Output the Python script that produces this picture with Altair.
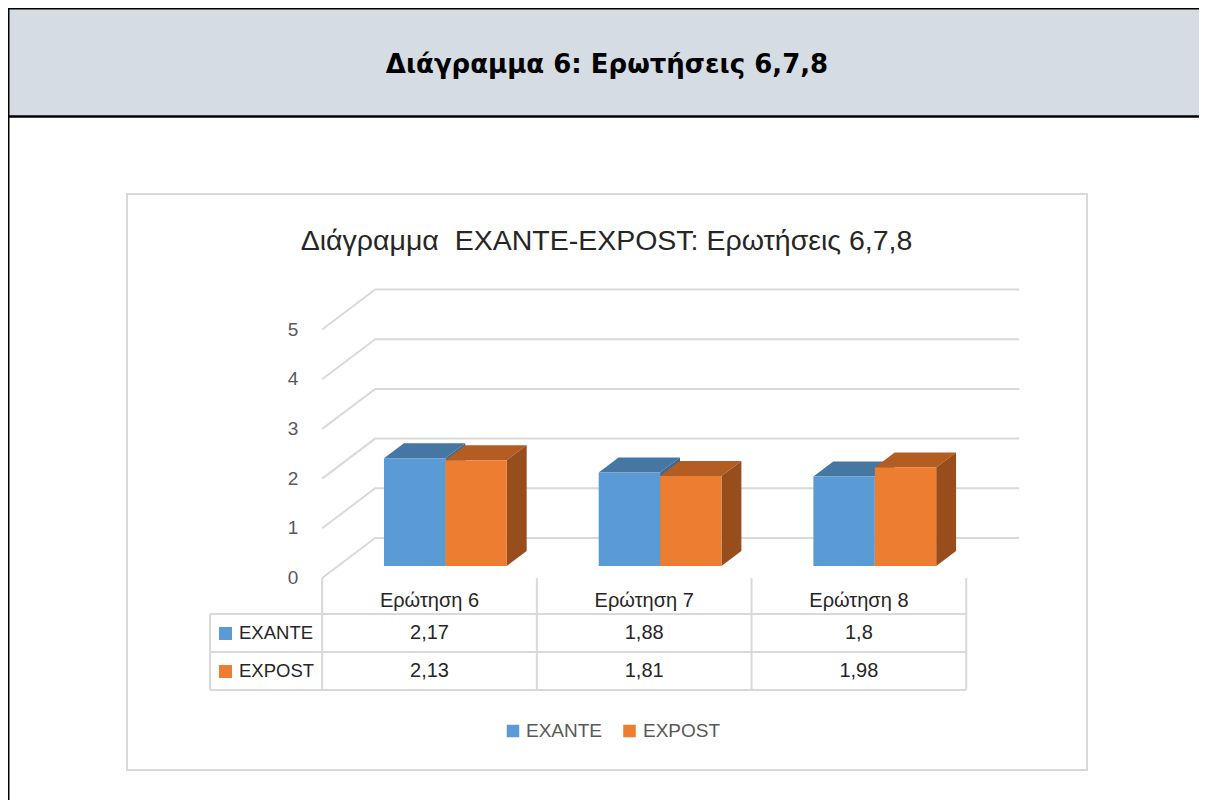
import altair as alt
import pandas as pd

# ---------------- data ----------------
categories = ["Ερώτηση 6", "Ερώτηση 7", "Ερώτηση 8"]
series = ["EXANTE", "EXPOST"]
exante = [2.17, 1.88, 1.8]
expost = [2.13, 1.81, 1.98]
y_ticks = [0, 1, 2, 3, 4, 5]

chart_title = "Διάγραμμα \u00a0EXANTE-EXPOST: Ερωτήσεις 6,7,8"
header_title = "Διάγραμμα 6: Ερωτήσεις 6,7,8"

# ---------------- style ----------------
front_colors = {"EXANTE": "#5b9bd5", "EXPOST": "#ed7d31"}
top_colors = {"EXANTE": "#4676a2", "EXPOST": "#b45d22"}
side_colors = {"EXANTE": "#3d6a94", "EXPOST": "#984e1c"}
GRID = "#d9d9d9"
TXT = "#262626"
LBL = "#595959"
FONT = "Liberation Sans"

W, H = 1191, 792
X_DOMAIN = [-1.9632, 3.5841]   # category index units
Y_DOMAIN = [-4.467, 11.469]    # value units
KX, KY = 0.2469, 0.8048        # depth projection (per unit depth)
ZF, ZB = 0.30, 0.675           # bar front / back depth
BW = 0.286                     # bar width (category units)

values = {"EXANTE": exante, "EXPOST": expost}


def X(f):
    return alt.X(f, type="quantitative", axis=None,
                 scale=alt.Scale(domain=X_DOMAIN, nice=False, zero=False))


def Y(f):
    return alt.Y(f, type="quantitative", axis=None, stack=None,
                 scale=alt.Scale(domain=Y_DOMAIN, nice=False, zero=False))


# ---------- back wall gridlines ----------
grid_rows = []
for k in y_ticks:
    pts = [(-0.5, k), (-0.5 + KX, k + KY), (2.5 + KX, k + KY)]
    for j, (u, v) in enumerate(pts):
        grid_rows.append({"k": k, "o": j, "u": u, "v": v})
grid = alt.Chart(pd.DataFrame(grid_rows)).mark_line(
    color=GRID, strokeWidth=2
).encode(x=X("u"), y=Y("v"), detail="k:N", order="o:Q")

# ---------- bars (3D faces) ----------
bar_layers = []
for s in series:
    top_rows, side_rows, front_rows = [], [], []
    for i, v in enumerate(values[s]):
        a = i - BW if s == "EXANTE" else i
        b = a + BW
        vf, vb = v + KY * ZF, v + KY * ZB
        top = [(a + KX * ZF, vf, vf), (a + KX * ZB, vb, vf),
               (b + KX * ZF, vb, vf), (b + KX * ZB, vb, vb)]
        for u, t, bt in top:
            top_rows.append({"face": f"{s}{i}", "xu": u, "ytop": t, "ybot": bt})
        side = [(b + KX * ZF, vf, KY * ZF), (b + KX * ZB, vb, KY * ZB)]
        for u, t, bt in side:
            side_rows.append({"face": f"{s}{i}", "xu": u, "ytop": t, "ybot": bt})
        front_rows.append({"x0": a + KX * ZF, "x1": b + KX * ZF,
                           "y0": KY * ZF, "y1": vf})
    for rows, col in [(top_rows, top_colors[s]), (side_rows, side_colors[s])]:
        bar_layers.append(
            alt.Chart(pd.DataFrame(rows)).mark_area(
                orient="vertical", color=col, opacity=1, interpolate="linear"
            ).encode(x=X("xu"), y=Y("ytop"), y2=alt.Y2("ybot"),
                     detail=alt.Detail("face:N"))
        )
    bar_layers.append(
        alt.Chart(pd.DataFrame(front_rows)).mark_rect(
            color=front_colors[s]
        ).encode(x=X("x0"), x2=alt.X2("x1"), y=Y("y0"), y2=alt.Y2("y1"))
    )

# ---------- y axis labels ----------
ylabels = alt.Chart(pd.DataFrame({"t": y_ticks})).mark_text(
    font=FONT, fontSize=19, color=LBL, align="center", baseline="middle"
).encode(x=alt.value(285), y=Y("t"), text="t:Q")

# ---------- data table ----------
cat_df = pd.DataFrame({"i": list(range(len(categories))), "cat": categories})
cat_text = alt.Chart(cat_df).mark_text(
    font=FONT, fontSize=20, color=TXT, align="center", baseline="middle"
).encode(x=X("i"), y=alt.value(593), text="cat:N")

col_lines = alt.Chart(pd.DataFrame({"u": [-0.5, 0.5, 1.5, 2.5]})).mark_rule(
    color=GRID, strokeWidth=2
).encode(x=X("u"), y=alt.value(570), y2=alt.value(682))

table_layers = [col_lines]
for yy in [606, 644, 682]:
    table_layers.append(
        alt.Chart(pd.DataFrame({"a": [0]})).mark_rule(color=GRID, strokeWidth=2)
        .encode(x=alt.value(202), x2=alt.value(958), y=alt.value(yy))
    )
table_layers.append(
    alt.Chart(pd.DataFrame({"a": [0]})).mark_rule(color=GRID, strokeWidth=2)
    .encode(x=alt.value(202), y=alt.value(606), y2=alt.value(682))
)

row_y = {"EXANTE": 625, "EXPOST": 663}
for s in series:
    vdf = pd.DataFrame({"i": list(range(len(categories))),
                        "lab": [str(v).replace(".", ",") for v in values[s]]})
    table_layers.append(
        alt.Chart(vdf).mark_text(font=FONT, fontSize=20, color=TXT,
                                 align="center", baseline="middle")
        .encode(x=X("i"), y=alt.value(row_y[s]), text="lab:N")
    )
    sdf = pd.DataFrame({"s": [s]})
    table_layers.append(
        alt.Chart(sdf).mark_square(size=169, filled=True, opacity=1,
                                   color=front_colors[s])
        .encode(x=alt.value(217.5), y=alt.value(row_y[s] + 0.5))
    )
    table_layers.append(
        alt.Chart(sdf).mark_text(font=FONT, fontSize=18.5, color=TXT,
                                 align="left", baseline="middle")
        .encode(x=alt.value(231), y=alt.value(row_y[s]), text="s:N")
    )

# ---------- legend ----------
legend_layers = []
for s, sx, tx in [("EXANTE", 505, 518), ("EXPOST", 621.5, 635)]:
    sdf = pd.DataFrame({"s": [s]})
    legend_layers.append(
        alt.Chart(sdf).mark_square(size=156, filled=True, opacity=1,
                                   color=front_colors[s])
        .encode(x=alt.value(sx), y=alt.value(723))
    )
    legend_layers.append(
        alt.Chart(sdf).mark_text(font=FONT, fontSize=19, color=LBL,
                                 align="left", baseline="middle")
        .encode(x=alt.value(tx), y=alt.value(723), text="s:N")
    )

# ---------- frames & titles ----------
one = pd.DataFrame({"a": [0]})
header_bg = alt.Chart(one).mark_rect(color="#d5dce4").encode(
    x=alt.value(0), x2=alt.value(W), y=alt.value(0), y2=alt.value(108))
frame_lines = [
    alt.Chart(one).mark_rule(color="#000000", strokeWidth=2.5).encode(
        x=alt.value(0), x2=alt.value(W), y=alt.value(108.5)),
    alt.Chart(one).mark_rule(color="#000000", strokeWidth=3).encode(
        x=alt.value(0), x2=alt.value(W), y=alt.value(0)),
    alt.Chart(one).mark_rule(color="#000000", strokeWidth=3).encode(
        x=alt.value(0), y=alt.value(0), y2=alt.value(H)),
]
header_text = alt.Chart(pd.DataFrame({"t": [header_title]})).mark_text(
    font="DejaVu Sans", fontSize=26, fontWeight="bold", color="#000000",
    align="center", baseline="middle"
).encode(x=alt.value(599), y=alt.value(57), text="t:N")

chart_box = alt.Chart(one).mark_rect(
    fill="#ffffff", stroke=GRID, strokeWidth=2
).encode(x=alt.value(119), x2=alt.value(1079), y=alt.value(186), y2=alt.value(762))

title_text = alt.Chart(pd.DataFrame({"t": [chart_title]})).mark_text(
    font=FONT, fontSize=28.5, color=TXT, align="center", baseline="middle"
).encode(x=alt.value(598.5), y=alt.value(233), text="t:N")

chart = alt.layer(
    header_bg, *frame_lines, header_text, chart_box, title_text,
    grid, *bar_layers, ylabels, cat_text, *table_layers, *legend_layers
).properties(
    width=W, height=H, padding=0, autosize=alt.AutoSizeParams(type="none"),
    background="#ffffff"
).configure_view(stroke=None)

chart.save("out.html", embed_options={"renderer": "svg", "actions": False})
